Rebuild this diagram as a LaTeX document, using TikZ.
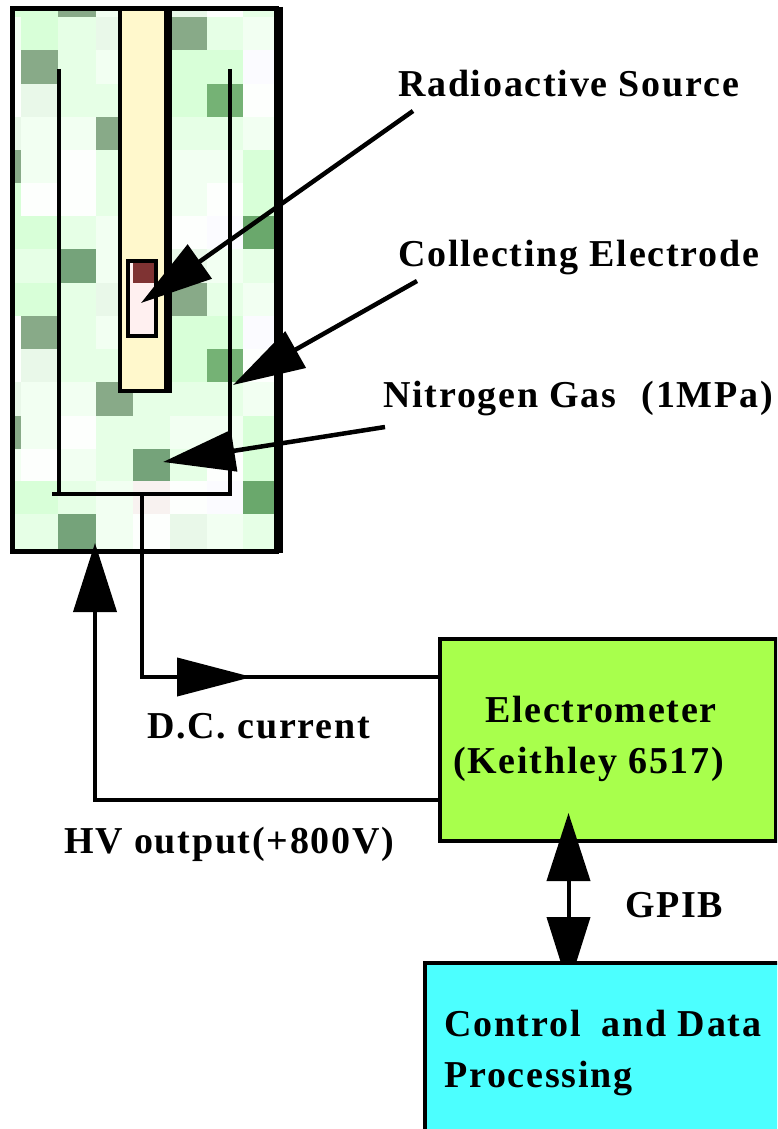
\documentclass[tikz,border=0pt]{standalone}
\usepackage{xcolor}
\usepackage{fontspec}
\setmainfont{Liberation Serif}
\usepackage{tikz}
\usetikzlibrary{calc}
\usetikzlibrary{arrows.meta}
\definecolor{tl}{HTML}{D8FFD8}
\definecolor{tm}{HTML}{E6FFE6}
\definecolor{tf}{HTML}{F2FFF2}
\definecolor{tw}{HTML}{FDFFFD}
\definecolor{tv}{HTML}{FBFBFF}
\definecolor{te}{HTML}{E9F8E9}
\definecolor{tp}{HTML}{F8F2F0}
\definecolor{td}{HTML}{88AA88}
\definecolor{tg}{HTML}{75B275}
\definecolor{th}{HTML}{6AA86C}
\definecolor{tk}{HTML}{75A37A}
\definecolor{tubecol}{HTML}{FFF8CC}
\definecolor{sourcecol}{HTML}{FFF0F0}
\definecolor{activecol}{HTML}{7F3333}
\definecolor{metercol}{HTML}{A8FF4C}
\definecolor{pccol}{HTML}{4CFFFF}
\tikzset{
    lbl/.style={font=\bfseries\fontsize{38}{38}\selectfont\addfontfeature{LetterSpace=4.6},anchor=base west,inner sep=0pt},
    wire/.style={line width=4pt},
    bigtip/.style={line width=4.5pt,-{Triangle[length=72pt,width=41pt]}},
    instr/.style={draw,line width=4pt,inner sep=0pt}
}
\begin{document}
\begin{tikzpicture}[x=1pt,y=-1pt]
\useasboundingbox (0,0) rectangle (777,1129);
\clip (0,0) rectangle (777,1129);
% Gas volume
\def\colx{{14,21,58,96,133,170,207,243,276}}
\foreach \ya/\yb/\tiles in {
    10/17/{tl,tl,td,tf,tm,te,tw,tm},
    17/50/{tf,tl,tm,te,tm,td,tm,tf},
    50/84/{tw,td,tm,tf,tm,tl,tl,tv},
    84/117/{tw,te,tm,tm,tm,tl,tg,tw},
    117/150/{te,tf,tf,td,tm,tm,tm,tf},
    150/183/{td,tf,tw,tm,tm,tf,tf,tl},
    183/216/{tl,tw,tw,tm,tm,tf,tw,tl},
    216/249/{tl,tl,tm,tf,tm,tw,tv,th},
    249/283/{tm,tm,tk,tf,tm,te,tf,tm},
    283/316/{tl,tl,tm,te,tm,td,tm,tf},
    316/349/{tw,td,tm,tf,tm,tl,tl,tv},
    349/382/{tw,te,tm,tm,tm,tl,tg,tw},
    382/416/{te,tf,tf,td,tm,tm,tm,tf},
    416/449/{td,tf,tw,tm,tm,tf,tf,tl},
    449/481/{tf,tw,tf,tm,tk,tm,tw,tl},
    481/514/{tl,tl,tm,tf,tp,tw,tv,th},
    514/551/{tm,tm,tk,tf,tw,te,tf,tm}} {
    \foreach \c [count=\i] in \tiles {
        \pgfmathsetmacro\xa{\colx[\i-1]}
        \pgfmathsetmacro\xb{\colx[\i]}
        \fill[\c] (\xa,\ya) rectangle (\xb,\yb);
    }
}
\draw[line width=5pt] (12.5,9) rectangle (276,551);
\draw[line width=4pt] (281,7) -- (281,553);

% Source tube
\node[instr,fill=tubecol,minimum width=50pt,minimum height=381pt] (tube) at (144.5,200) {};
\draw[line width=8pt] (167.5,7) -- (167.5,392);
\node[instr,fill=sourcecol,minimum width=28pt,minimum height=75pt] (source) at (142,298.5) {};
\fill[activecol] (133,263) rectangle (154,283);

% Electrode
\coordinate (eleft) at (59,69);
\coordinate (eright) at (230,69);
\coordinate (ecorner) at (230,494);
\coordinate (eend) at (52,494);
\draw[wire] (eleft) -- (eleft |- eend);
\draw[wire] (eright) -- (ecorner) -- (eend);

% Instruments
\node[instr,fill=metercol,minimum width=336pt,minimum height=202pt] (meter) at (607.5,740) {};
\coordinate (gpibup) at (568.5,813);
\coordinate (gpibdown) at (568.5,987);
\draw[wire,{Triangle[length=68pt,width=43pt]}-{Triangle[length=70pt,width=43pt]}] (gpibup) -- (gpibdown);
\node[instr,fill=pccol,minimum width=500pt,minimum height=400pt] (pc) at (675,1163) {};

% Leads
\coordinate (dcstart) at (142,494);
\coordinate (dcin) at (meter.west |- 0,677);
\coordinate (dcturn) at (dcstart |- dcin);
\coordinate (dctip) at (252,677);
\coordinate (hvout) at (meter.west |- 0,800);
\coordinate (hvturn) at (95,800);
\coordinate (hvtip) at (95,543);
\draw[wire] (dcstart) -- (dcturn) -- (dcin);
\draw[wire,-{Triangle[length=75pt,width=38pt]}] (dcturn) -- (dctip);
\draw[wire,-{Triangle[length=69pt,width=43pt]}] (hvout) -- (hvturn) -- (hvtip);

% Labels
\node[lbl] (rslabel) at (398,96.5) {Radioactive Source};
\node[lbl] (celabel) at (398,266.5) {Collecting Electrode};
\node[lbl] (n2label) at (383,407.5) {Nitrogen Gas\hspace{14pt} (1MPa)};
\node[lbl] (dclabel) at (147,738) {D.C. current};
\node[lbl] (hvlabel) at (64,853) {HV output(+800V)};
\node[lbl] (metername) at (485,722) {Electrometer};
\node[lbl] (metertype) at (453,773) {(Keithley 6517)};
\node[lbl] (gpiblabel) at (625,917) {GPIB};
\node[lbl] (pcnameA) at (444,1036.5) {Control\hspace{10pt} and Data};
\node[lbl] (pcnameB) at (444,1087) {Processing};

% Pointers
\coordinate (rsfrom) at (413,111);
\coordinate (rstip) at (141,303);
\coordinate (cefrom) at (417,281);
\coordinate (cetip) at (233,385);
\coordinate (n2from) at (385,427);
\coordinate (n2tip) at (163,462);
\draw[bigtip] (rsfrom) -- (rstip);
\draw[bigtip] (cefrom) -- (cetip);
\draw[bigtip] (n2from) -- (n2tip);
\end{tikzpicture}
\end{document}
